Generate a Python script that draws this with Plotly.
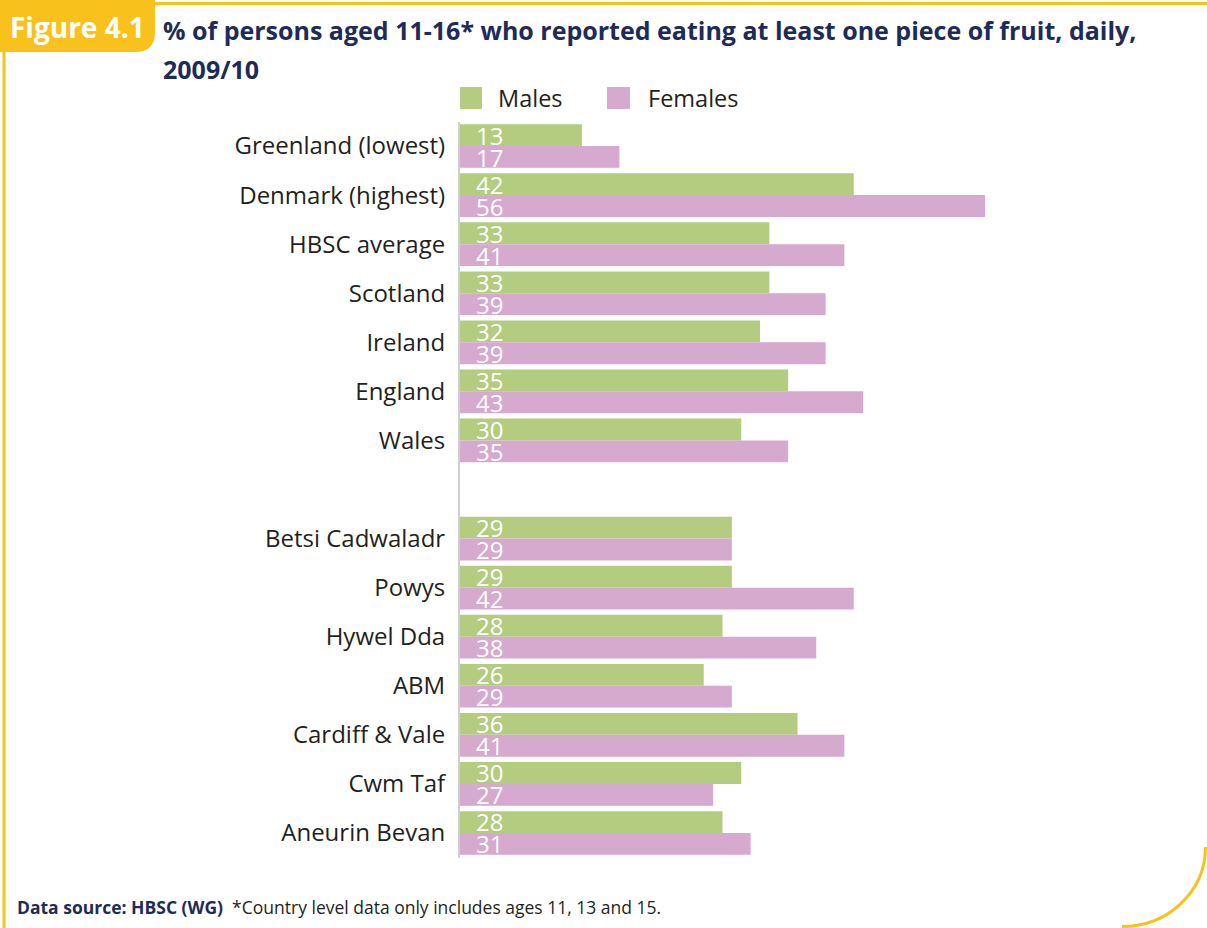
import plotly.graph_objects as go

W, H = 1207, 928

categories = ["Greenland (lowest)", "Denmark (highest)", "HBSC average", "Scotland",
              "Ireland", "England", "Wales", " ",
              "Betsi Cadwaladr", "Powys", "Hywel Dda", "ABM", "Cardiff & Vale",
              "Cwm Taf", "Aneurin Bevan"]
males = [13, 42, 33, 33, 32, 35, 30, None, 29, 29, 28, 26, 36, 30, 28]
females = [17, 56, 41, 39, 39, 43, 35, None, 29, 42, 38, 29, 41, 27, 31]
series_names = ["Males", "Females"]

GREEN = "#B3CC80"
PINK = "#D6A9CE"
YELLOW = "#F8C11C"
NAVY = "#1E2B57"
TEXT = "#231F20"
FONT = "Open Sans"


def px(x):
    return x / W


def py(y):
    return 1 - y / H


fig = go.Figure()
fig.add_trace(go.Bar(y=categories, x=males, name=series_names[0], orientation="h",
                     marker=dict(color=GREEN, line=dict(width=0))))
fig.add_trace(go.Bar(y=categories, x=females, name=series_names[1], orientation="h",
                     marker=dict(color=PINK, line=dict(width=0))))

annotations = []
# value labels
for cat, m, f in zip(categories, males, females):
    for v, shift in ((m, 11), (f, -11)):
        if v is None:
            continue
        annotations.append(dict(x=0, y=cat, xref="x", yref="y", text=str(v),
                                xanchor="left", yanchor="middle", xshift=14, yshift=shift,
                                showarrow=False,
                                font=dict(family=FONT, size=24, color="white")))

# title
annotations.append(dict(x=px(161), y=py(30), xref="paper", yref="paper", xanchor="left",
                        yanchor="middle", showarrow=False,
                        text="<b>% of persons aged 11-16* who reported eating at least one piece of fruit, daily,</b>",
                        font=dict(family=FONT, size=25, color=NAVY)))
annotations.append(dict(x=px(161), y=py(69), xref="paper", yref="paper", xanchor="left",
                        yanchor="middle", showarrow=False, text="<b>2009/10</b>",
                        font=dict(family=FONT, size=25, color=NAVY)))
annotations.append(dict(x=px(8), y=py(27), xref="paper", yref="paper", xanchor="left",
                        yanchor="middle", showarrow=False, text="<b>Figure 4.1</b>",
                        font=dict(family=FONT, size=28, color="white")))
# legend labels
annotations.append(dict(x=px(496), y=py(98), xref="paper", yref="paper", xanchor="left",
                        yanchor="middle", showarrow=False, text=series_names[0],
                        font=dict(family=FONT, size=23.5, color=TEXT)))
annotations.append(dict(x=px(646), y=py(98), xref="paper", yref="paper", xanchor="left",
                        yanchor="middle", showarrow=False, text=series_names[1],
                        font=dict(family=FONT, size=23.5, color=TEXT)))
# footer
annotations.append(dict(x=px(15), y=py(907), xref="paper", yref="paper", xanchor="left",
                        yanchor="middle", showarrow=False,
                        text="<b><span style='color:%s'>Data source: HBSC (WG)</span></b>  *Country level data only includes ages 11, 13 and 15." % NAVY,
                        font=dict(family=FONT, size=17.5, color=TEXT)))

k = 0.5523
shapes = [
    # legend swatches
    dict(type="rect", xref="paper", yref="paper", x0=px(460), x1=px(482), y0=py(87), y1=py(109),
         fillcolor=GREEN, line=dict(width=0)),
    dict(type="rect", xref="paper", yref="paper", x0=px(607), x1=px(630), y0=py(87), y1=py(109),
         fillcolor=PINK, line=dict(width=0)),
    # figure tag
    dict(type="path", xref="paper", yref="paper",
         path="M 0 %f L %f %f L %f %f Q %f %f %f %f L 0 %f Z" % (
             py(0), px(155), py(0), px(155), py(32), px(155), py(52), px(135), py(52), py(52)),
         fillcolor=YELLOW, line=dict(width=0)),
    # top border
    dict(type="line", xref="paper", yref="paper", x0=px(150), x1=px(1207), y0=py(3.5), y1=py(3.5),
         line=dict(color=YELLOW, width=3)),
    # left border
    dict(type="line", xref="paper", yref="paper", x0=px(4), x1=px(4), y0=py(40), y1=py(928),
         line=dict(color=YELLOW, width=3)),
    # bottom-right arc
    dict(type="path", xref="paper", yref="paper",
         path="M %f %f C %f %f %f %f %f %f" % (
             px(1205.5), py(847), px(1205.5), py(847 + 80 * k), px(1122 + 84 * k), py(926.5),
             px(1122), py(926.5)),
         line=dict(color=YELLOW, width=3)),
]

n = len(categories)
fig.update_layout(
    width=W, height=H,
    margin=dict(l=0, r=0, t=0, b=0),
    paper_bgcolor="white", plot_bgcolor="white",
    barmode="group", bargap=0.11, bargroupgap=0,
    showlegend=False,
    annotations=annotations,
    shapes=shapes,
    xaxis=dict(domain=[px(460), px(985)], range=[0, 56], visible=False, fixedrange=True),
    yaxis=dict(domain=[py(857.5), py(121.5)], categoryorder="array", categoryarray=categories,
               range=[n - 0.5, -0.5], showline=True, linecolor="#D0D0D0", linewidth=2,
               showgrid=False, zeroline=False, ticks="outside", ticklen=8,
               tickcolor="rgba(0,0,0,0)",
               tickfont=dict(family=FONT, size=24, color=TEXT)),
)

fig.write_html("out.html")
